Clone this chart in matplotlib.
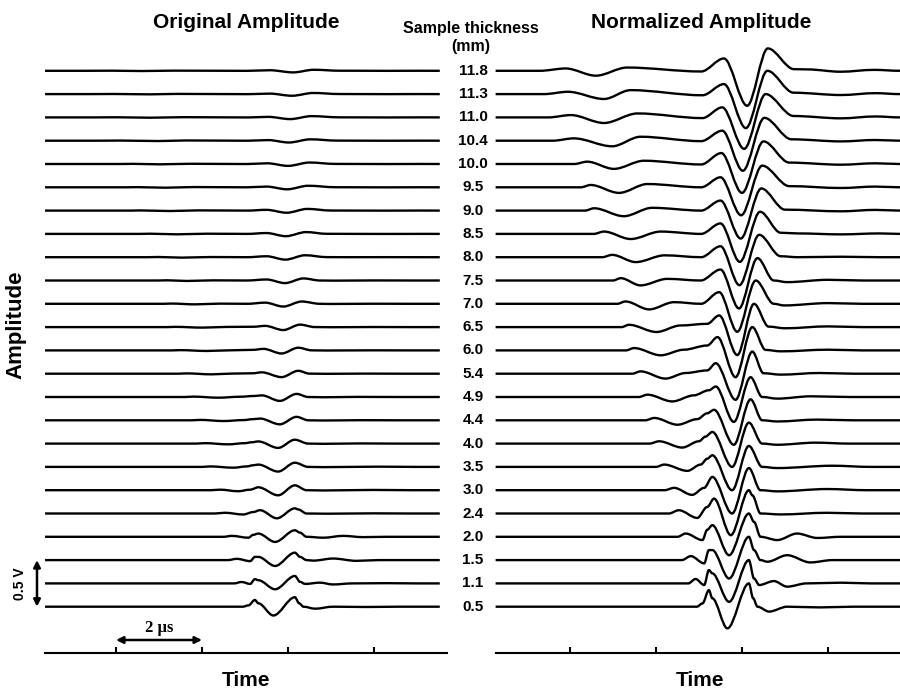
import matplotlib
matplotlib.use("Agg")
import matplotlib.pyplot as plt
from matplotlib.path import Path
from matplotlib.patches import PathPatch

plt.rcParams['font.family'] = ['Liberation Sans', 'DejaVu Sans']

# sample thickness (mm), bottom trace first
thickness_mm = ["0.5", "1.1", "1.5", "2.0", "2.4", "3.0", "3.5", "4.0", "4.4", "4.9", "5.4", "6.0",
                "6.5", "7.0", "7.5", "8.0", "8.5", "9.0", "9.5", "10.0", "10.4", "11.0", "11.3", "11.8"]

# peak-to-peak of the original signals (V), same order
orig_peak_to_peak_v = [0.196, 0.143, 0.143, 0.125, 0.107, 0.107, 0.095, 0.088, 0.080, 0.075, 0.068, 0.062,
                       0.058, 0.054, 0.050, 0.047, 0.044, 0.041, 0.038, 0.036, 0.034, 0.032, 0.030, 0.028]

# normalized waveforms: (time in us, amplitude) at turning points
normalized_traces = [
    [(4.95, 0), (5.08, 0.14), (5.23, 0.71), (5.31, 0.36), (5.66, -0.93), (6.16, 1.0), (6.26, 0.36), (6.36, 0.0), (6.63, -0.21), (7.05, 0.0), (7.8, -0.03), (8.6, 0.0)],
    [(4.75, 0), (4.92, 0.19), (5.12, -0.07), (5.23, 0.57), (5.31, 0.43), (5.70, -0.79), (6.16, 1.0), (6.28, 0.21), (6.40, -0.07), (6.74, 0.10), (7.05, -0.14), (7.5, 0.0), (8.3, 0.03), (9.0, 0.0)],
    [(4.6, 0), (4.81, 0.17), (5.12, -0.14), (5.23, 0.43), (5.31, 0.43), (5.70, -0.79), (6.16, 1.0), (6.28, 0.43), (6.43, 0.0), (6.59, -0.07), (7.05, 0.21), (7.59, -0.10), (8.1, 0.0)],
    [(4.5, 0), (4.69, 0.14), (5.08, -0.14), (5.19, 0.30), (5.31, 0.50), (5.70, -0.79), (6.16, 1.0), (6.28, 0.64), (6.43, 0.0), (6.82, -0.14), (7.28, 0.14), (7.75, -0.05), (8.3, 0.0)],
    [(4.3, 0), (4.53, 0.14), (4.96, -0.19), (5.19, 0.28), (5.35, 0.64), (5.74, -0.93), (6.16, 1.0), (6.24, 0.78), (6.43, 0.0), (6.9, -0.04), (7.98, 0.03), (8.8, 0.0)],
    [(4.2, 0), (4.42, 0.10), (4.84, -0.20), (5.12, 0.10), (5.31, 0.57), (5.77, -1.0), (6.16, 0.95), (6.43, 0.0), (6.82, -0.05), (7.98, 0.05), (8.9, 0.0)],
    [(4.0, 0), (4.19, 0.10), (4.73, -0.17), (5.04, 0.10), (5.19, 0.35), (5.31, 0.50), (5.77, -1.0), (6.16, 0.90), (6.47, 0.0), (6.82, -0.05), (8.1, 0.05), (9.0, 0.0)],
    [(3.85, 0), (4.07, 0.10), (4.61, -0.17), (5.00, 0.10), (5.15, 0.30), (5.31, 0.50), (5.77, -1.0), (6.16, 0.90), (6.47, 0.0), (6.82, -0.05), (7.7, 0.04), (8.5, 0.0)],
    [(3.75, 0), (3.96, 0.10), (4.50, -0.19), (4.96, 0.05), (5.19, 0.30), (5.35, 0.45), (5.81, -1.05), (6.20, 0.90), (6.47, 0.0), (6.82, -0.05), (7.75, 0.03), (8.6, 0.0)],
    [(3.6, 0), (3.80, 0.10), (4.38, -0.19), (4.88, 0.07), (5.23, 0.29), (5.39, 0.45), (5.81, -1.07), (6.20, 0.85), (6.47, 0.0), (6.82, -0.07), (7.6, 0.03), (8.5, 0.0)],
    [(3.45, 0), (3.64, 0.10), (4.22, -0.21), (4.69, 0.03), (5.19, 0.14), (5.39, 0.45), (5.85, -1.12), (6.24, 0.95), (6.5, 0.02), (6.9, -0.04), (7.8, 0.03), (8.6, 0.0)],
    [(3.3, 0), (3.49, 0.10), (4.11, -0.21), (4.65, 0.03), (5.19, 0.21), (5.43, 0.57), (5.85, -1.15), (6.24, 1.0), (6.55, 0.02), (6.9, -0.04), (8.0, 0.03), (8.8, 0.0)],
    [(3.2, 0), (3.37, 0.10), (4.01, -0.21), (4.57, 0.07), (5.19, 0.14), (5.47, 0.50), (5.89, -1.2), (6.28, 1.0), (6.62, 0.02), (7.0, -0.05), (8.0, 0.03), (8.8, 0.0)],
    [(3.1, 0), (3.29, 0.10), (3.84, -0.24), (4.42, 0.07), (5.05, 0.0), (5.47, 0.50), (5.89, -1.2), (6.32, 1.0), (6.74, 0.0), (6.98, -0.07), (8.0, 0.03), (8.8, 0.0)],
    [(3.0, 0), (3.18, 0.10), (3.64, -0.21), (4.26, 0.07), (5.04, 0.0), (5.50, 0.47), (5.93, -1.2), (6.36, 0.96), (6.74, 0.0), (7.05, -0.07), (8.0, 0.03), (8.8, 0.0)],
    [(2.75, 0), (2.98, 0.10), (3.53, -0.21), (4.2, 0.08), (5.05, 0.0), (5.50, 0.47), (5.94, -1.2), (6.40, 0.96), (6.9, 0.04), (7.3, 0.0), (8.3, 0.02), (9.2, 0.0)],
    [(2.55, 0), (2.79, 0.10), (3.41, -0.22), (4.11, 0.10), (5.05, 0.0), (5.50, 0.45), (5.95, -1.2), (6.42, 0.95), (6.9, 0.05), (7.3, 0.02), (8.3, -0.02), (9.2, 0.02)],
    [(2.35, 0), (2.56, 0.10), (3.25, -0.24), (3.91, 0.12), (5.05, 0.0), (5.50, 0.43), (5.97, -1.2), (6.45, 0.95), (7.0, 0.04), (8.3, -0.03), (9.1, 0.03)],
    [(2.25, 0), (2.48, 0.10), (3.14, -0.24), (3.80, 0.14), (5.05, 0.0), (5.50, 0.43), (5.98, -1.2), (6.47, 0.93), (7.1, 0.05), (8.3, -0.03), (9.1, 0.03)],
    [(2.1, 0), (2.40, 0.10), (3.02, -0.21), (3.72, 0.14), (5.05, -0.02), (5.52, 0.47), (6.0, -1.24), (6.50, 0.97), (7.1, 0.06), (8.3, -0.03), (9.1, 0.03)],
    [(1.6, 0), (2.09, 0.10), (2.98, -0.24), (3.64, 0.17), (5.05, -0.02), (5.54, 0.43), (6.02, -1.29), (6.52, 0.98), (7.15, 0.06), (8.3, -0.03), (9.1, 0.03)],
    [(1.5, 0), (2.02, 0.10), (2.79, -0.24), (3.57, 0.17), (5.08, -0.03), (5.54, 0.43), (6.05, -1.35), (6.55, 1.0), (7.2, 0.06), (8.3, -0.04), (9.1, 0.04)],
    [(1.4, 0), (1.95, 0.10), (2.79, -0.21), (3.41, 0.17), (5.08, -0.05), (5.58, 0.43), (6.09, -1.46), (6.59, 1.0), (7.2, 0.06), (8.3, -0.04), (9.1, 0.04)],
    [(1.3, 0), (1.90, 0.10), (2.60, -0.21), (3.33, 0.14), (5.05, -0.03), (5.58, 0.53), (6.12, -1.50), (6.60, 0.96), (7.21, 0.07), (7.52, 0.06), (8.29, -0.04), (9.07, 0.04)],
]

time_ticks_us = [2, 4, 6, 8]
volts_per_step = 0.25  # trace spacing on the left panel

# page geometry (pixels)
W, H = 900, 690
PX_PER_US = 43.0
PX_PER_STEP = 23.3
BASE_Y = 606.7

fig = plt.figure(figsize=(9, 6.9), dpi=100)


def make_panel(x0, x1):
    ax = fig.add_axes([x0 / W, 0, (x1 - x0) / W, 1])
    ax.set_xlim(0, (x1 - x0) / PX_PER_US)
    ax.set_ylim(-(H - BASE_Y) / PX_PER_STEP, BASE_Y / PX_PER_STEP)
    ax.patch.set_visible(False)
    for s in ['top', 'left', 'right']:
        ax.spines[s].set_visible(False)
    ax.spines['bottom'].set_position(('data', -(653 - BASE_Y) / PX_PER_STEP))
    ax.spines['bottom'].set_linewidth(1.5)
    ax.set_yticks([])
    ax.set_xticks(time_ticks_us)
    ax.tick_params(axis='x', direction='in', length=4.5, width=1.5, labelbottom=False)
    return ax


def trace_path(points, t0, t1, offset, gain):
    # smooth curve through turning points (flat tangent at each one)
    pts = [(t0, 0.0)] + list(points) + [(t1, 0.0)]
    verts = [(pts[0][0], offset + pts[0][1] * gain)]
    codes = [Path.MOVETO]
    for (ta, ya), (tb, yb) in zip(pts[:-1], pts[1:]):
        dt = tb - ta
        verts += [(ta + dt / 3, offset + ya * gain), (tb - dt / 3, offset + yb * gain), (tb, offset + yb * gain)]
        codes += [Path.CURVE4] * 3
    return Path(verts, codes)


ax_l = make_panel(30, 460)
ax_r = make_panel(484, 900)
ax_l.spines['bottom'].set_bounds(0.35, 9.7)
ax_r.spines['bottom'].set_bounds(0.27, 416 / PX_PER_US)

for i, pts in enumerate(normalized_traces):
    amps = [a for _, a in pts]
    norm_pp = max(amps) - min(amps)
    gain_l = orig_peak_to_peak_v[i] / norm_pp / volts_per_step
    ax_l.add_patch(PathPatch(trace_path(pts, 0.35, 9.53, i, gain_l), fill=False, ec='black', lw=1.7))
    ax_r.add_patch(PathPatch(trace_path(pts, 0.27, 416 / PX_PER_US, i, 1.0), fill=False, ec='black', lw=1.7))
    ax_r.text((473 - 484) / PX_PER_US, i, thickness_mm[i], ha='center', va='center',
              fontsize=11, fontweight='bold')

# scale bars
bar_y = -(640 - BASE_Y) / PX_PER_STEP
ax_l.annotate('', xy=(4, bar_y), xytext=(2, bar_y),
              arrowprops=dict(arrowstyle='<|-|>', color='black', lw=1.8, mutation_scale=10,
                              shrinkA=0, shrinkB=0))
ax_l.text(3, -(628 - BASE_Y) / PX_PER_STEP, '2 \u00b5s', ha='center', va='center', fontsize=12,
          fontweight='bold', family='Liberation Serif')
ax_l.annotate('', xy=(7 / PX_PER_US, 0.5 / volts_per_step), xytext=(7 / PX_PER_US, 0),
              arrowprops=dict(arrowstyle='<|-|>', color='black', lw=1.8, mutation_scale=10,
                              shrinkA=0, shrinkB=0))
ax_l.text(-10 / PX_PER_US, 0.25 / volts_per_step, '0.5 V', rotation=90, ha='center', va='center',
          fontsize=10, fontweight='bold')

# titles and labels
fig.text(246 / W, 1 - 22 / H, 'Original Amplitude', ha='center', va='center', fontsize=15, fontweight='bold')
fig.text(701 / W, 1 - 22 / H, 'Normalized Amplitude', ha='center', va='center', fontsize=15, fontweight='bold')
fig.text(471 / W, 1 - 28 / H, 'Sample thickness', ha='center', va='center', fontsize=11.5, fontweight='bold')
fig.text(471 / W, 1 - 46 / H, '(mm)', ha='center', va='center', fontsize=11.5, fontweight='bold')
fig.text(16 / W, 1 - 325 / H, 'Amplitude', ha='center', va='center', rotation=90, fontsize=16, fontweight='bold')
fig.text(246 / W, 1 - 680 / H, 'Time', ha='center', va='center', fontsize=15, fontweight='bold')
fig.text(700 / W, 1 - 680 / H, 'Time', ha='center', va='center', fontsize=15, fontweight='bold')

fig.savefig('out.png', dpi=100)
